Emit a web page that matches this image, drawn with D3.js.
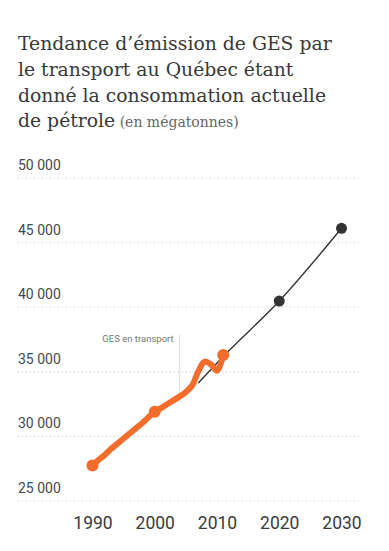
<!DOCTYPE html>
<html>
<head>
<meta charset="utf-8">
<script src="https://cdn.jsdelivr.net/npm/d3@7"></script>
<style>
  body { margin: 0; background: #fff; }
  svg { display: block; }
</style>
</head>
<body>
<svg id="chart" width="389" height="551"></svg>
<script>
// historical emissions (orange), one value a year
const histYears = [1990, 1991, 1992, 1993, 1994, 1995, 1996, 1997, 1998, 1999, 2000,
  2001, 2002, 2003, 2004, 2005, 2006, 2007, 2008, 2009, 2010, 2011];
const histValues = [27700, 28150, 28550, 29000, 29400, 29800, 30200, 30600, 31000, 31450, 31870,
  32150, 32450, 32750, 33050, 33400, 33900, 35000, 35750, 35550, 35050, 36260];
const histDots = [1990, 2000, 2011];

// projection (black)
const projYears = [2007, 2011, 2020, 2030];
const projValues = [34100, 36150, 40440, 46070];
const projDots = [2020, 2030];

const yTicks = [25000, 30000, 35000, 40000, 45000, 50000];
const xTicks = [1990, 2000, 2010, 2020, 2030];

const titleLines = ["Tendance d\u2019émission de GES par", "le transport au Québec étant",
  "donné la consommation actuelle", "de pétrole"];
const subTitle = "(en mégatonnes)";
const annotation = { year: 2004, label: "GES en transport" };

const svg = d3.select("#chart");
const fr = d3.formatLocale({ decimal: ",", thousands: " ", grouping: [3], currency: ["", " $"] });

// title
const title = svg.append("text")
  .attr("x", 18)
  .attr("font-family", "DejaVu Serif")
  .attr("font-size", 18.8)
  .attr("fill", "#383838");
titleLines.forEach((t, i) => {
  title.append("tspan").attr("x", 18).attr("y", 50 + i * 25.8).text(t);
  if (i === titleLines.length - 1) {
    title.append("tspan").attr("font-size", 14).attr("fill", "#666").text(" " + subTitle);
  }
});

const x = d3.scaleLinear().domain([1990, 2030]).range([92.5, 341.5]);
const y = d3.scaleLinear().domain([25000, 50000]).range([500.5, 177.5]);

// y grid + labels
const yAxis = svg.append("g")
  .attr("transform", "translate(18,0)")
  .call(d3.axisLeft(y).tickValues(yTicks).tickSize(-342).tickFormat(fr.format(",")));
yAxis.select(".domain").remove();
yAxis.selectAll("line")
  .attr("stroke", "#c8c8c8")
  .attr("stroke-dasharray", "1,3");
yAxis.selectAll("text")
  .attr("x", 0)
  .attr("dy", -8)
  .attr("text-anchor", "start")
  .attr("font-family", "Roboto")
  .attr("font-size", 14)
  .attr("fill", "#484848");

// x labels
const xAxis = svg.append("g")
  .attr("transform", "translate(0,514)")
  .call(d3.axisBottom(x).tickValues(xTicks).tickSize(0).tickFormat(d3.format("d")));
xAxis.select(".domain").remove();
xAxis.selectAll("text")
  .attr("dy", "0.71em")
  .attr("y", 2.5)
  .attr("font-family", "Roboto")
  .attr("font-size", 17.5)
  .attr("fill", "#3a3a3a");

// annotation
const hist = histYears.map((d, i) => ({ year: d, value: histValues[i] }));
const proj = projYears.map((d, i) => ({ year: d, value: projValues[i] }));
const annVal = histValues[histYears.indexOf(annotation.year)];
svg.append("line")
  .attr("x1", x(annotation.year)).attr("x2", x(annotation.year))
  .attr("y1", 335).attr("y2", y(annVal))
  .attr("stroke", "#ddd").attr("stroke-width", 1);
svg.append("text")
  .attr("x", x(annotation.year) - 6)
  .attr("y", 342)
  .attr("text-anchor", "end")
  .attr("font-family", "Roboto")
  .attr("font-size", 9.5)
  .attr("fill", "#777")
  .text(annotation.label);

// projection line
const line = d3.line().x(d => x(d.year)).y(d => y(d.value)).curve(d3.curveMonotoneX);
svg.append("path")
  .datum(proj)
  .attr("d", line)
  .attr("fill", "none")
  .attr("stroke", "#333")
  .attr("stroke-width", 1.4);

// historical line
svg.append("path")
  .datum(hist)
  .attr("d", line.curve(d3.curveCatmullRom))
  .attr("fill", "none")
  .attr("stroke", "#f26d2b")
  .attr("stroke-width", 6)
  .attr("stroke-linecap", "round")
  .attr("stroke-linejoin", "round");

svg.selectAll(".hdot")
  .data(hist.filter(d => histDots.includes(d.year)))
  .join("circle")
  .attr("class", "hdot")
  .attr("cx", d => x(d.year))
  .attr("cy", d => y(d.value))
  .attr("r", 6)
  .attr("fill", "#f26d2b");

svg.selectAll(".pdot")
  .data(proj.filter(d => projDots.includes(d.year)))
  .join("circle")
  .attr("class", "pdot")
  .attr("cx", d => x(d.year))
  .attr("cy", d => y(d.value))
  .attr("r", 5.5)
  .attr("fill", "#333");
</script>
</body>
</html>
